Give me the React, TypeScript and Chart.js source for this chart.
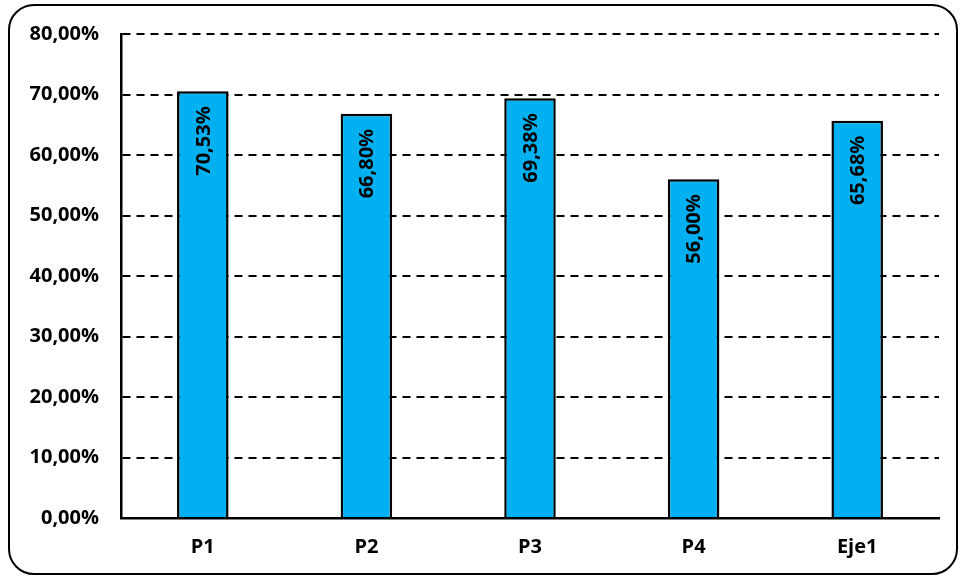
import React, { useEffect, useRef } from "react";
import { Chart, registerables } from "chart.js";

Chart.register(...registerables);

const categories = ["P1", "P2", "P3", "P4", "Eje1"];
const values = [70.53, 66.8, 69.38, 56.0, 65.68];
const yTicks = [0, 10, 20, 30, 40, 50, 60, 70, 80];

const fmt = (v: number) => v.toFixed(2).replace(".", ",") + "%";
const FONT = "'Open Sans', 'Liberation Sans', sans-serif";

const barLabels = {
  id: "barLabels",
  afterDatasetsDraw(chart: any) {
    const ctx = chart.ctx;
    const meta = chart.getDatasetMeta(0);
    ctx.save();
    ctx.fillStyle = "#000";
    ctx.font = `bold 20px ${FONT}`;
    meta.data.forEach((bar: any, i: number) => {
      ctx.save();
      ctx.translate(bar.x, bar.y + 15);
      ctx.rotate(-Math.PI / 2);
      ctx.textAlign = "right";
      ctx.textBaseline = "middle";
      ctx.fillText(fmt(values[i]), 0, 1);
      ctx.restore();
    });
    ctx.restore();
  },
};

export default function App() {
  const ref = useRef<HTMLCanvasElement>(null);
  useEffect(() => {
    if (!ref.current) return;
    const chart = new Chart(ref.current, {
      type: "bar",
      data: {
        labels: categories,
        datasets: [
          {
            data: values,
            backgroundColor: "#00B0F0",
            borderColor: "#000",
            borderWidth: 2.5,
            barPercentage: 0.315,
            categoryPercentage: 1,
          },
        ],
      },
      options: {
        animation: false,
        responsive: false,
        maintainAspectRatio: false,
        layout: { padding: { left: 0, top: 34, right: 22, bottom: 0 } },
        plugins: { legend: { display: false }, tooltip: { enabled: false } },
        scales: {
          x: {
            grid: { display: false, drawTicks: false },
            border: { display: true, color: "#000", width: 2.5 },
            ticks: {
              color: "#000",
              font: { family: FONT, size: 20, weight: "bold" },
              padding: 17,
            },
            afterFit: (s: any) => {
              s.height = 60;
            },
          },
          y: {
            min: 0,
            max: 80,
            afterBuildTicks: (s: any) => {
              s.ticks = yTicks.map((v) => ({ value: v }));
            },
            grid: {
              drawTicks: false,
              color: (c: any) => (c.tick && c.tick.value === 0 ? "rgba(0,0,0,0)" : "#000"),
              lineWidth: 2,
            },
            border: { display: true, color: "#000", width: 2.5, dash: [8, 6] as any },
            ticks: {
              color: "#000",
              font: { family: FONT, size: 20, weight: "bold" },
              padding: 22,
              callback: (v: any) => fmt(Number(v)),
            },
            afterFit: (s: any) => {
              s.width = 121;
            },
          },
        },
      } as any,
      plugins: [barLabels],
    });
    return () => chart.destroy();
  }, []);
  return (
    <div
      style={{
        position: "fixed",
        left: 0,
        top: 0,
        width: 961,
        height: 578,
        background: "#fff",
      }}
    >
      <div
        style={{
          position: "absolute",
          left: 8,
          top: 4,
          width: 950,
          height: 571,
          boxSizing: "border-box",
          border: "2.5px solid #000",
          borderRadius: 26,
        }}
      />
      <canvas ref={ref} width={961} height={578} style={{ position: "absolute", left: 0, top: 0 }} />
    </div>
  );
}
